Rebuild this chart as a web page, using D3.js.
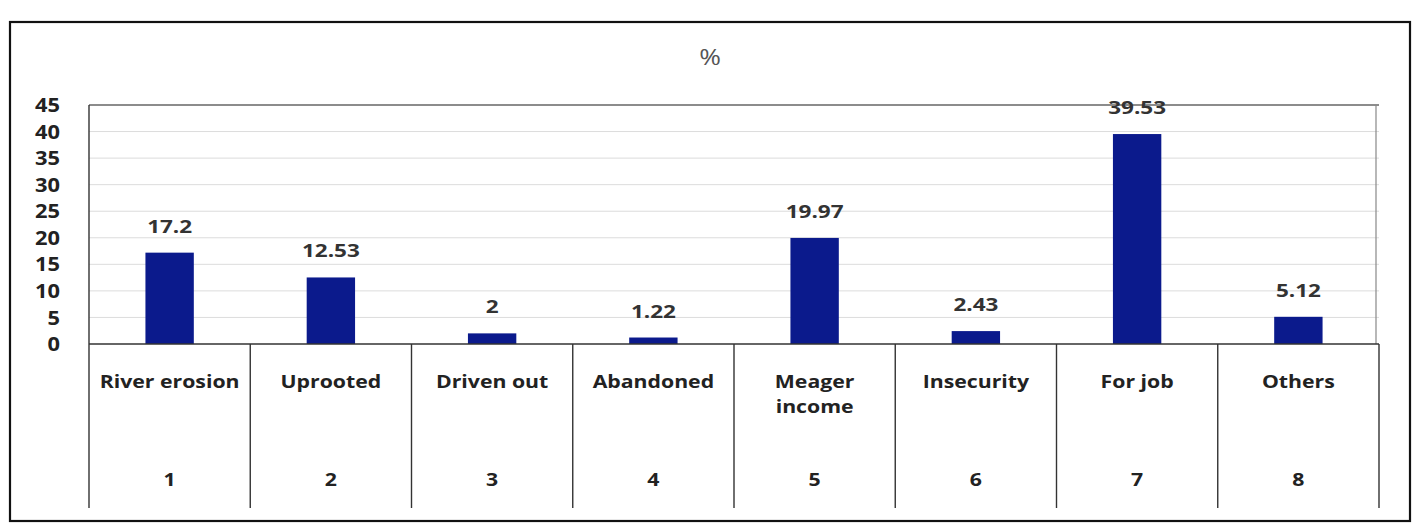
<!DOCTYPE html>
<html>
<head>
<meta charset="utf-8">
<script src="https://cdn.jsdelivr.net/npm/d3@7"></script>
<style>
  html, body { margin: 0; padding: 0; background: #fff; }
  svg { display: block; }
  text { font-family: "Open Sans", Lato, sans-serif; fill: #222; }
</style>
</head>
<body>
<svg id="chart" width="1419" height="523"></svg>
<script>
// Reasons for migration, share of respondents (%)
const categories = ["River erosion", "Uprooted", "Driven out", "Abandoned", "Meager income", "Insecurity", "For job", "Others"];
const categoryLines = [["River erosion"], ["Uprooted"], ["Driven out"], ["Abandoned"], ["Meager", "income"], ["Insecurity"], ["For job"], ["Others"]];
const codes = ["1", "2", "3", "4", "5", "6", "7", "8"];
const percent = [17.2, 12.53, 2, 1.22, 19.97, 2.43, 39.53, 5.12];
const yTicks = [0, 5, 10, 15, 20, 25, 30, 35, 40, 45];

const svg = d3.select("#chart");

const plot = { left: 89, right: 1379, top: 105, bottom: 344, tableBottom: 508 };
const wide = 1.25; // horizontal widening applied to the label glyphs

const y = d3.scaleLinear().domain([0, 45]).range([plot.bottom, plot.top]);
const cell = d3.scaleBand().domain(categories).range([plot.left, plot.right]).padding(0);
const x = d3.scaleBand().domain(categories).range([plot.left, plot.right])
  .paddingInner(0.7).paddingOuter(0.35);

// outer frame
svg.append("rect")
  .attr("x", 10).attr("y", 22).attr("width", 1400).attr("height", 499)
  .attr("fill", "none").attr("stroke", "#111").attr("stroke-width", 2.2);

// title
svg.append("text")
  .attr("transform", `translate(710,65) scale(${wide},1)`)
  .attr("text-anchor", "middle")
  .style("font-size", "21px").style("fill", "#555")
  .text("%");

// horizontal gridlines
svg.append("g")
  .selectAll("line")
  .data(yTicks.filter(d => d > 0))
  .join("line")
  .attr("x1", plot.left).attr("x2", plot.right)
  .attr("y1", d => y(d)).attr("y2", d => y(d))
  .attr("stroke", d => d === 45 ? "#666" : "#dcdcdc")
  .attr("stroke-width", d => d === 45 ? 1.3 : 1);

// right border of plot area
svg.append("line")
  .attr("x1", plot.right - 3).attr("x2", plot.right - 3)
  .attr("y1", plot.top).attr("y2", plot.bottom)
  .attr("stroke", "#888").attr("stroke-width", 1.2);

// y axis labels
const yAxis = d3.axisLeft(y).tickValues(yTicks).tickSize(0).tickPadding(0);
const gy = svg.append("g").attr("transform", `translate(${plot.left - 29},0)`).call(yAxis);
gy.select(".domain").remove();
gy.selectAll("text")
  .attr("x", null)
  .attr("transform", `scale(1.15,1)`)
  .style("font-family", "'Open Sans', Lato, sans-serif")
  .style("font-size", "19px").style("font-weight", "bold").style("fill", "#222")
  .attr("dy", "0.35em");

// bars
svg.append("g")
  .selectAll("rect")
  .data(categories)
  .join("rect")
  .attr("x", d => x(d))
  .attr("width", x.bandwidth())
  .attr("y", (d, i) => y(percent[i]))
  .attr("height", (d, i) => y(0) - y(percent[i]))
  .attr("fill", "#0b1a8c");

// value labels
svg.append("g")
  .selectAll("text")
  .data(categories)
  .join("text")
  .attr("transform", (d, i) =>
    `translate(${x(d) + x.bandwidth() / 2},${y(percent[i]) - 20}) scale(${wide},1)`)
  .attr("text-anchor", "middle")
  .style("font-size", "18px").style("font-weight", "bold").style("fill", "#333")
  .text((d, i) => percent[i]);

// data table under axis: cell dividers
const bounds = categories.map(d => cell(d)).concat([plot.right]);
svg.append("g")
  .selectAll("line")
  .data(bounds)
  .join("line")
  .attr("x1", d => d).attr("x2", d => d)
  .attr("y1", (d, i) => i === 0 ? plot.top : plot.bottom)
  .attr("y2", plot.tableBottom)
  .attr("stroke", "#333").attr("stroke-width", 1.4);

// zero baseline
svg.append("line")
  .attr("x1", plot.left).attr("x2", plot.right)
  .attr("y1", plot.bottom).attr("y2", plot.bottom)
  .attr("stroke", "#333").attr("stroke-width", 1.6);

// category names
const names = svg.append("g")
  .selectAll("text")
  .data(categories)
  .join("text")
  .attr("transform", d => `translate(${cell(d) + cell.bandwidth() / 2},388) scale(${wide},1)`)
  .attr("text-anchor", "middle")
  .style("font-size", "17px").style("font-weight", "bold").style("fill", "#222");
names.selectAll("tspan")
  .data((d, i) => categoryLines[i])
  .join("tspan")
  .attr("x", 0)
  .attr("dy", (d, j) => j === 0 ? 0 : 25)
  .text(d => d);

// category codes
svg.append("g")
  .selectAll("text")
  .data(categories)
  .join("text")
  .attr("transform", d => `translate(${cell(d) + cell.bandwidth() / 2},486) scale(${wide},1)`)
  .attr("text-anchor", "middle")
  .style("font-size", "17px").style("font-weight", "bold").style("fill", "#222")
  .text((d, i) => codes[i]);
</script>
</body>
</html>
